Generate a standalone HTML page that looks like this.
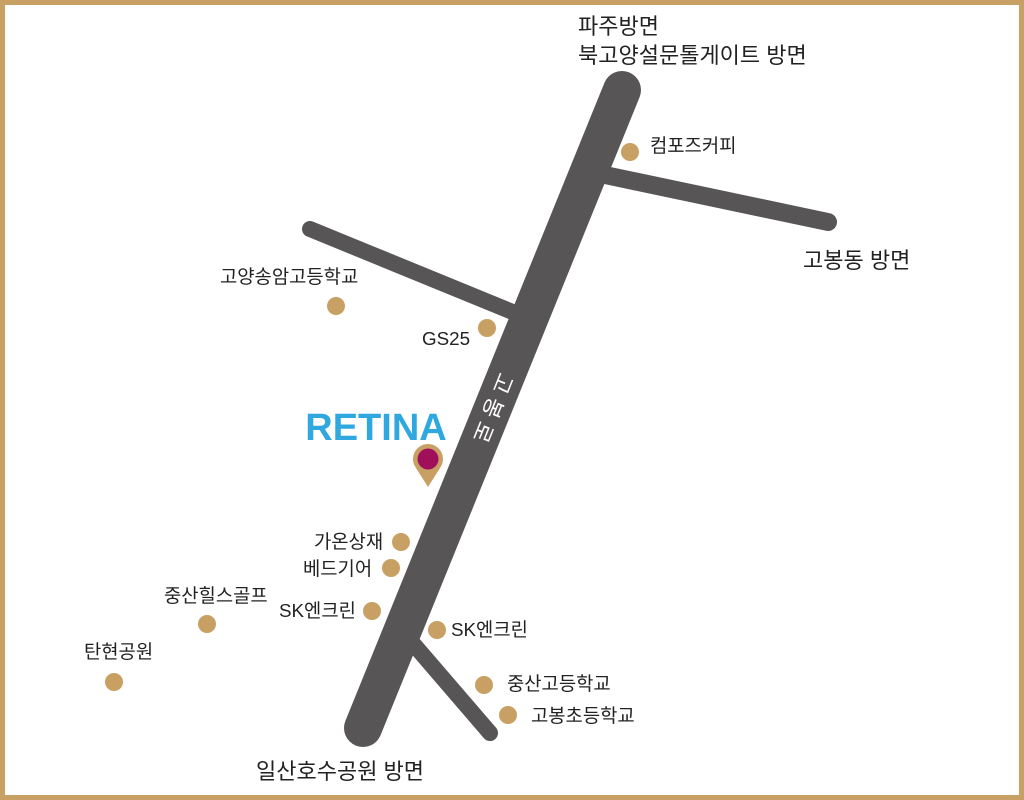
<!DOCTYPE html>
<html><head><meta charset="utf-8"><style>
html,body{margin:0;padding:0;background:#fff}
svg{display:block}
text{font-family:"Liberation Sans","Noto Sans CJK KR",sans-serif;fill:#222}
</style></head><body>
<svg width="1024" height="800" viewBox="0 0 1024 800">
<rect x="2.5" y="2.5" width="1019" height="795" fill="#fff" stroke="#c9a063" stroke-width="5"/>
<g stroke="#575555" stroke-linecap="round" fill="none">
<line x1="605" y1="175" x2="828" y2="222" stroke-width="18"/>
<line x1="310" y1="229" x2="520" y2="315" stroke-width="16"/>
<line x1="410" y1="640" x2="490" y2="733" stroke-width="16"/>
<line x1="622" y1="90" x2="363" y2="728" stroke-width="38"/>
</g>
<text x="490" y="410" font-size="22" letter-spacing="6" style="fill:#fff" text-anchor="middle" dominant-baseline="middle" transform="rotate(112 490 410)">고봉로</text>
<g font-size="22">
<text x="578" y="34">파주방면</text>
<text x="578" y="63">북고양설문톨게이트 방면</text>
<text x="803" y="268">고봉동 방면</text>
<text x="256" y="779">일산호수공원 방면</text>
</g>
<g font-size="18.8">
<text x="650" y="152">컴포즈커피</text>
<text x="220" y="283">고양송암고등학교</text>
<text x="422" y="345">GS25</text>
<text x="314" y="548">가온상재</text>
<text x="303" y="575">베드기어</text>
<text x="164" y="602">중산힐스골프</text>
<text x="279" y="617">SK엔크린</text>
<text x="451" y="636">SK엔크린</text>
<text x="84" y="658">탄현공원</text>
<text x="507" y="690">중산고등학교</text>
<text x="531" y="722">고봉초등학교</text>
</g>
<g fill="#c9a063">
<circle cx="630" cy="152" r="9"/>
<circle cx="336" cy="306" r="9"/>
<circle cx="487" cy="328" r="9"/>
<circle cx="401" cy="542" r="9"/>
<circle cx="391" cy="568" r="9"/>
<circle cx="372" cy="611" r="9"/>
<circle cx="437" cy="630" r="9"/>
<circle cx="207" cy="624" r="9"/>
<circle cx="114" cy="682" r="9"/>
<circle cx="484" cy="685" r="9"/>
<circle cx="508" cy="715" r="9"/>
</g>
<text x="376" y="440" font-size="38" font-weight="bold" text-anchor="middle" style="fill:#2fa8e0">RETINA</text>
<path d="M428 487 L416 468 A15 15 0 1 1 440 468 Z" fill="#c9a063"/>
<circle cx="428" cy="459" r="10.5" fill="#a0105a"/>
</svg>
</body></html>
